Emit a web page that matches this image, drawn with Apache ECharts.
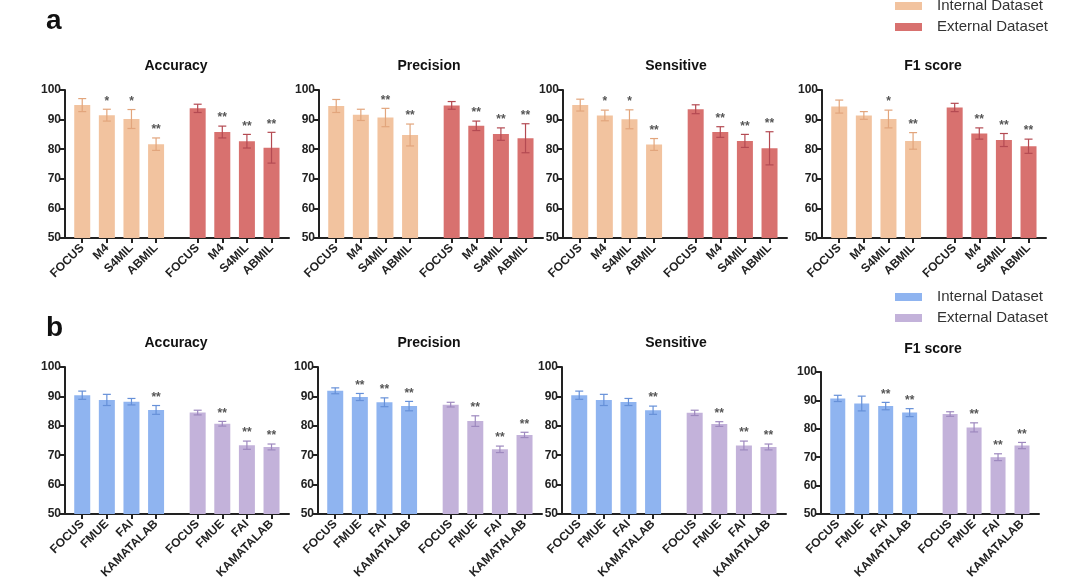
<!DOCTYPE html>
<html>
<head>
<meta charset="utf-8">
<script src="https://cdn.jsdelivr.net/npm/echarts@6/dist/echarts.min.js"></script>
<style>
  html, body { margin: 0; padding: 0; background: #fff; }
  #main { width: 1080px; height: 588px; }
</style>
</head>
<body>
<div id="main"></div>
<script>
// ---- data ----
var metricNames = ['Accuracy', 'Precision', 'Sensitive', 'F1 score'];
var topModels = ['FOCUS', 'M4', 'S4MIL', 'ABMIL'];
var bottomModels = ['FOCUS', 'FMUE', 'FAI', 'KAMATALAB'];
var legendNames = ['Internal Dataset', 'External Dataset'];
var yTicks = [50, 60, 70, 80, 90, 100];

// panel a : internal then external, one row per metric
var aInternalMean = [
  [94.9, 91.5, 90.2, 81.7],
  [94.6, 91.6, 90.7, 84.8],
  [94.9, 91.4, 90.1, 81.6],
  [94.4, 91.4, 90.2, 82.8]
];
var aInternalErr = [
  [2.2, 2.0, 3.2, 2.1],
  [2.2, 1.9, 3.1, 3.7],
  [2.0, 1.8, 3.2, 2.0],
  [2.2, 1.3, 3.0, 2.8]
];
var aInternalStars = [
  ['', '*', '*', '**'],
  ['', '', '**', '**'],
  ['', '*', '*', '**'],
  ['', '', '*', '**']
];
var aExternalMean = [
  [93.8, 85.8, 82.7, 80.5],
  [94.8, 87.9, 85.1, 83.7],
  [93.5, 85.8, 82.8, 80.3],
  [94.1, 85.3, 83.1, 81.0]
];
var aExternalErr = [
  [1.4, 2.0, 2.3, 5.2],
  [1.3, 1.6, 2.1, 4.9],
  [1.5, 1.8, 2.2, 5.6],
  [1.4, 1.9, 2.2, 2.4]
];
var aExternalStars = [
  ['', '**', '**', '**'],
  ['', '**', '**', '**'],
  ['', '**', '**', '**'],
  ['', '**', '**', '**']
];

// panel b
var bInternalMean = [
  [90.4, 88.8, 88.2, 85.4],
  [91.9, 89.8, 88.0, 86.7],
  [90.4, 88.8, 88.1, 85.3],
  [90.7, 88.9, 88.0, 85.7]
];
var bInternalErr = [
  [1.4, 1.9, 1.1, 1.5],
  [1.0, 1.2, 1.5, 1.6],
  [1.4, 1.9, 1.2, 1.4],
  [1.1, 2.6, 1.3, 1.4]
];
var bInternalStars = [
  ['', '', '', '**'],
  ['', '**', '**', '**'],
  ['', '', '', '**'],
  ['', '', '**', '**']
];
var bExternalMean = [
  [84.5, 80.7, 73.4, 72.8],
  [87.2, 81.6, 72.0, 76.9],
  [84.4, 80.6, 73.3, 72.8],
  [85.2, 80.5, 70.0, 74.1]
];
var bExternalErr = [
  [0.8, 0.8, 1.4, 1.0],
  [0.8, 1.8, 1.1, 0.9],
  [0.9, 0.8, 1.5, 1.0],
  [0.8, 1.6, 1.2, 1.1]
];
var bExternalStars = [
  ['', '**', '**', '**'],
  ['', '**', '**', '**'],
  ['', '**', '**', '**'],
  ['', '**', '**', '**']
];

// ---- style / layout ----
var COLORS = {
  a: { bar: ['#F2C39F', '#D8716F'], err: ['#E2A57C', '#B44A52'] },
  b: { bar: ['#8FB4F0', '#C3B2DA'], err: ['#6690D8', '#9D88BE'] }
};
var GAP = 0.69;              // extra space between the two dataset groups
var XMIN = -0.7, XMAX = 8.4;
var FONT = 'Liberation Sans, Arial, sans-serif';

// panel boxes [left, top, width, height]
var boxes = {
  a: [[65, 90, 224, 148], [319, 90, 224, 148], [563, 90, 224, 148], [822, 90, 224, 148]],
  b: [[65, 367, 224, 147], [318, 367, 224, 147], [562, 367, 224, 147], [821, 372, 218, 142]]
};
var titlePos = {
  a: [[176, 66], [429, 66], [676, 66], [933, 66]],
  b: [[176, 343], [429, 343], [676, 343], [933, 349]]
};

function positions() {
  var p = [];
  for (var i = 0; i < 8; i++) p.push(i < 4 ? i : i + GAP);
  return p;
}
var POS = positions();

var grids = [], xAxes = [], yAxes = [], series = [], graphics = [];

function addPanel(row, k, models, inMean, inErr, inStars, exMean, exErr, exStars) {
  var idx = grids.length;
  var b = boxes[row][k];
  var col = COLORS[row];
  var labels = models.concat(models);
  var means = inMean[k].concat(exMean[k]);
  var errs = inErr[k].concat(exErr[k]);
  var stars = inStars[k].concat(exStars[k]);

  grids.push({ left: b[0], top: b[1], width: b[2], height: b[3], containLabel: false });
  xAxes.push({
    type: 'value', gridIndex: idx, min: XMIN, max: XMAX,
    splitLine: { show: false },
    axisLine: { onZero: false, lineStyle: { color: '#222', width: 2 } },
    axisTick: { show: true, customValues: POS, length: 5, lineStyle: { color: '#222', width: 2 } },
    axisLabel: {
      customValues: POS, rotate: 45, margin: 8,
      fontSize: 12, fontWeight: 'bold', color: '#222', fontFamily: FONT,
      formatter: function (v) {
        for (var i = 0; i < POS.length; i++) if (Math.abs(POS[i] - v) < 0.01) return labels[i];
        return '';
      }
    }
  });
  yAxes.push({
    type: 'value', gridIndex: idx, min: 50, max: 100, interval: 10,
    splitLine: { show: false },
    axisLine: { show: true, onZero: false, lineStyle: { color: '#222', width: 2 } },
    axisTick: { show: true, length: 5, lineStyle: { color: '#222', width: 2 } },
    axisLabel: { fontSize: 12, fontWeight: 'bold', color: '#222', fontFamily: FONT, margin: 4 }
  });

  series.push({
    type: 'bar', xAxisIndex: idx, yAxisIndex: idx,
    barWidth: row === 'b' && k === 3 ? 15 : 16,
    silent: true,
    data: POS.map(function (p, j) {
      return { value: [p, means[j]], itemStyle: { color: col.bar[j < 4 ? 0 : 1] } };
    })
  });

  series.push({
    type: 'custom', xAxisIndex: idx, yAxisIndex: idx, silent: true, z: 5,
    data: POS.map(function (p, j) { return [p, means[j], errs[j], j < 4 ? 0 : 1]; }),
    renderItem: function (params, api) {
      var x = api.value(0), m = api.value(1), e = api.value(2), g = api.value(3);
      var st = stars[params.dataIndex];
      var hi = api.coord([x, m + e]), lo = api.coord([x, m - e]);
      var stroke = { stroke: col.err[g], lineWidth: 1.2 };
      var children = [
        { type: 'line', shape: { x1: hi[0], y1: hi[1], x2: lo[0], y2: lo[1] }, style: stroke },
        { type: 'line', shape: { x1: hi[0] - 4, y1: hi[1], x2: hi[0] + 4, y2: hi[1] }, style: stroke },
        { type: 'line', shape: { x1: lo[0] - 4, y1: lo[1], x2: lo[0] + 4, y2: lo[1] }, style: stroke }
      ];
      if (st) {
        children.push({
          type: 'text',
          style: {
            text: st, x: hi[0], y: hi[1] - 2, align: 'center', verticalAlign: 'bottom',
            fill: '#555', font: 'bold 12px ' + FONT
          }
        });
      }
      return { type: 'group', children: children };
    }
  });

  var t = titlePos[row][k];
  graphics.push({
    type: 'text', x: t[0], y: t[1],
    style: { text: metricNames[k], align: 'center', verticalAlign: 'middle', fill: '#111', font: 'bold 14px ' + FONT }
  });
}

for (var k = 0; k < 4; k++) {
  addPanel('a', k, topModels, aInternalMean, aInternalErr, aInternalStars, aExternalMean, aExternalErr, aExternalStars);
}
for (var k2 = 0; k2 < 4; k2++) {
  addPanel('b', k2, bottomModels, bInternalMean, bInternalErr, bInternalStars, bExternalMean, bExternalErr, bExternalStars);
}

// panel letters
graphics.push({ type: 'text', x: 46, y: 35, style: { text: 'a', verticalAlign: 'bottom', fill: '#111', font: 'bold 28px ' + FONT } });
graphics.push({ type: 'text', x: 46, y: 342, style: { text: 'b', verticalAlign: 'bottom', fill: '#111', font: 'bold 28px ' + FONT } });

// legends (drawn by hand, one per row)
function addLegend(row, yCenters) {
  for (var i = 0; i < 2; i++) {
    graphics.push({ type: 'rect', shape: { x: 895, y: yCenters[i] - 4, width: 27, height: 8 }, style: { fill: COLORS[row].bar[i] } });
    graphics.push({
      type: 'text', x: 937, y: yCenters[i],
      style: { text: legendNames[i], verticalAlign: 'middle', fill: '#333', font: '15px ' + FONT }
    });
  }
}
addLegend('a', [6, 27]);
addLegend('b', [297, 318]);

var chart = echarts.init(document.getElementById('main'), null, { renderer: 'canvas' });
chart.setOption({
  backgroundColor: '#fff',
  animation: false,
  grid: grids,
  xAxis: xAxes,
  yAxis: yAxes,
  series: series,
  graphic: graphics
});
</script>
</body>
</html>
